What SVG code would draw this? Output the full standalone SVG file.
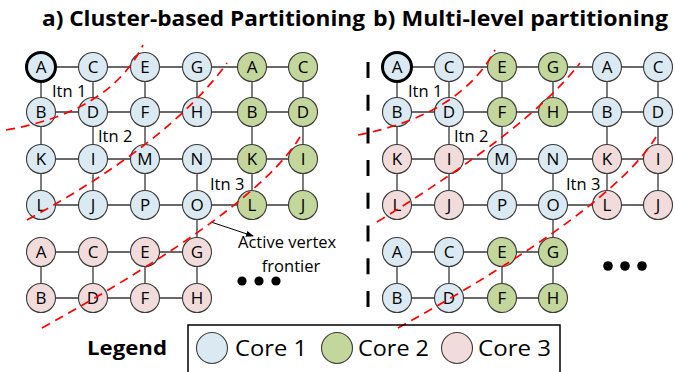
<svg xmlns="http://www.w3.org/2000/svg" width="675" height="372" viewBox="0 0 675 372">
  <style>
    .title { font-family: "Open Sans", "Liberation Sans", sans-serif; font-weight: bold; font-size: 21px; fill: #000; }
    .n circle { stroke: #3a3a3a; stroke-width: 1.1; }
    .n text { font-family: "Open Sans", "Liberation Sans", sans-serif; font-size: 17px; text-anchor: middle; fill: #000; }
    .b circle, circle.b { fill: #dbeaf2; }
    .g circle, circle.g { fill: #c3d69b; }
    .p circle, circle.p { fill: #f2dcdb; }
    .start circle { stroke: #000; stroke-width: 3; }
    .edge { fill: none; stroke: #383838; stroke-width: 1.3; }
    .wave { fill: none; stroke: #ff0000; stroke-width: 1.7; stroke-dasharray: 9 6; }
    .lbl { font-family: "Open Sans", "Liberation Sans", sans-serif; font-size: 16.5px; fill: #000; }
    .leg { font-family: "Open Sans", "Liberation Sans", sans-serif; font-size: 22px; fill: #000; }
    .legc { stroke: #3a3a3a; stroke-width: 1.1; }
  </style>
  <defs>
    <marker id="arrowhead" markerWidth="8" markerHeight="6" refX="7" refY="3" orient="auto" markerUnits="userSpaceOnUse">
      <path d="M0,0 L8,3 L0,6 Z" fill="#000"/>
    </marker>
  </defs>
  <rect width="675" height="372" fill="#fff"/>

  <!-- panel titles -->
  <text class="title" x="42" y="26" textLength="323" lengthAdjust="spacingAndGlyphs">a) Cluster-based Partitioning</text>
  <text class="title" x="373" y="26" textLength="295" lengthAdjust="spacingAndGlyphs">b) Multi-level partitioning</text>

  <!-- connectors: grid edges -->
  <g id="connectors">
    <path id="edges-a" class="edge" d="M41 67H303 M41 112H303 M41 159H303 M41 205H303 M41 252H197 M41 298H197
      M41 67V205 M93 67V205 M145 67V205 M197 67V112 M197 159V298 M252 67V205 M303 67V205
      M41 252V298 M93 252V298 M145 252V298"/>
    <path id="edges-b" class="edge" d="M397 67H658 M397 112H658 M397 159H658 M397 205H658 M397 252H553 M397 298H553
      M397 67V205 M449 67V205 M502 67V205 M553 67V112 M553 159V298 M607 67V205 M658 67V205
      M397 252V298 M449 252V298 M502 252V298"/>
    <line id="active-arrow" x1="211" y1="222" x2="253" y2="236" stroke="#000" stroke-width="1" marker-end="url(#arrowhead)"/>
  </g>

  <!-- panel separator -->
  <line x1="368" y1="62" x2="368" y2="310" stroke="#000" stroke-width="3" stroke-dasharray="16 16.7"/>

  <!-- a) cluster-based partitioning nodes -->
  <g id="a-A" class="n b start"><circle cx="41" cy="67" r="14.5"/><text x="41" y="73">A</text></g>
  <g id="a-C" class="n b"><circle cx="93" cy="67" r="14.5"/><text x="93" y="73">C</text></g>
  <g id="a-E" class="n b"><circle cx="145" cy="67" r="14.5"/><text x="145" y="73">E</text></g>
  <g id="a-G" class="n b"><circle cx="197" cy="67" r="14.5"/><text x="197" y="73">G</text></g>
  <g id="a-A2" class="n g"><circle cx="252" cy="67" r="14.5"/><text x="252" y="73">A</text></g>
  <g id="a-C2" class="n g"><circle cx="303" cy="67" r="14.5"/><text x="303" y="73">C</text></g>

  <g id="a-B" class="n b"><circle cx="41" cy="112" r="14.5"/><text x="41" y="118">B</text></g>
  <g id="a-D" class="n b"><circle cx="93" cy="112" r="14.5"/><text x="93" y="118">D</text></g>
  <g id="a-F" class="n b"><circle cx="145" cy="112" r="14.5"/><text x="145" y="118">F</text></g>
  <g id="a-H" class="n b"><circle cx="197" cy="112" r="14.5"/><text x="197" y="118">H</text></g>
  <g id="a-B2" class="n g"><circle cx="252" cy="112" r="14.5"/><text x="252" y="118">B</text></g>
  <g id="a-D2" class="n g"><circle cx="303" cy="112" r="14.5"/><text x="303" y="118">D</text></g>

  <g id="a-K" class="n b"><circle cx="41" cy="159" r="14.5"/><text x="41" y="165">K</text></g>
  <g id="a-I" class="n b"><circle cx="93" cy="159" r="14.5"/><text x="93" y="165">I</text></g>
  <g id="a-M" class="n b"><circle cx="145" cy="159" r="14.5"/><text x="145" y="165">M</text></g>
  <g id="a-N" class="n b"><circle cx="197" cy="159" r="14.5"/><text x="197" y="165">N</text></g>
  <g id="a-K2" class="n g"><circle cx="252" cy="159" r="14.5"/><text x="252" y="165">K</text></g>
  <g id="a-I2" class="n g"><circle cx="303" cy="159" r="14.5"/><text x="303" y="165">I</text></g>

  <g id="a-L" class="n b"><circle cx="41" cy="205" r="14.5"/><text x="41" y="211">L</text></g>
  <g id="a-J" class="n b"><circle cx="93" cy="205" r="14.5"/><text x="93" y="211">J</text></g>
  <g id="a-P" class="n b"><circle cx="145" cy="205" r="14.5"/><text x="145" y="211">P</text></g>
  <g id="a-O" class="n b"><circle cx="197" cy="205" r="14.5"/><text x="197" y="211">O</text></g>
  <g id="a-L2" class="n g"><circle cx="252" cy="205" r="14.5"/><text x="252" y="211">L</text></g>
  <g id="a-J2" class="n g"><circle cx="303" cy="205" r="14.5"/><text x="303" y="211">J</text></g>

  <g id="a-A3" class="n p"><circle cx="41" cy="252" r="14.5"/><text x="41" y="258">A</text></g>
  <g id="a-C3" class="n p"><circle cx="93" cy="252" r="14.5"/><text x="93" y="258">C</text></g>
  <g id="a-E3" class="n p"><circle cx="145" cy="252" r="14.5"/><text x="145" y="258">E</text></g>
  <g id="a-G3" class="n p"><circle cx="197" cy="252" r="14.5"/><text x="197" y="258">G</text></g>
  <g id="a-B3" class="n p"><circle cx="41" cy="298" r="14.5"/><text x="41" y="304">B</text></g>
  <g id="a-D3" class="n p"><circle cx="93" cy="298" r="14.5"/><text x="93" y="304">D</text></g>
  <g id="a-F3" class="n p"><circle cx="145" cy="298" r="14.5"/><text x="145" y="304">F</text></g>
  <g id="a-H3" class="n p"><circle cx="197" cy="298" r="14.5"/><text x="197" y="304">H</text></g>

  <!-- b) multi-level partitioning nodes -->
  <g id="b-A" class="n b start"><circle cx="397" cy="67" r="14.5"/><text x="397" y="73">A</text></g>
  <g id="b-C" class="n b"><circle cx="449" cy="67" r="14.5"/><text x="449" y="73">C</text></g>
  <g id="b-E" class="n g"><circle cx="502" cy="67" r="14.5"/><text x="502" y="73">E</text></g>
  <g id="b-G" class="n g"><circle cx="553" cy="67" r="14.5"/><text x="553" y="73">G</text></g>
  <g id="b-A2" class="n b"><circle cx="607" cy="67" r="14.5"/><text x="607" y="73">A</text></g>
  <g id="b-C2" class="n b"><circle cx="658" cy="67" r="14.5"/><text x="658" y="73">C</text></g>

  <g id="b-B" class="n b"><circle cx="397" cy="112" r="14.5"/><text x="397" y="118">B</text></g>
  <g id="b-D" class="n b"><circle cx="449" cy="112" r="14.5"/><text x="449" y="118">D</text></g>
  <g id="b-F" class="n g"><circle cx="502" cy="112" r="14.5"/><text x="502" y="118">F</text></g>
  <g id="b-H" class="n g"><circle cx="553" cy="112" r="14.5"/><text x="553" y="118">H</text></g>
  <g id="b-B2" class="n b"><circle cx="607" cy="112" r="14.5"/><text x="607" y="118">B</text></g>
  <g id="b-D2" class="n b"><circle cx="658" cy="112" r="14.5"/><text x="658" y="118">D</text></g>

  <g id="b-K" class="n p"><circle cx="397" cy="159" r="14.5"/><text x="397" y="165">K</text></g>
  <g id="b-I" class="n p"><circle cx="449" cy="159" r="14.5"/><text x="449" y="165">I</text></g>
  <g id="b-M" class="n b"><circle cx="502" cy="159" r="14.5"/><text x="502" y="165">M</text></g>
  <g id="b-N" class="n b"><circle cx="553" cy="159" r="14.5"/><text x="553" y="165">N</text></g>
  <g id="b-K2" class="n p"><circle cx="607" cy="159" r="14.5"/><text x="607" y="165">K</text></g>
  <g id="b-I2" class="n p"><circle cx="658" cy="159" r="14.5"/><text x="658" y="165">I</text></g>

  <g id="b-L" class="n p"><circle cx="397" cy="205" r="14.5"/><text x="397" y="211">L</text></g>
  <g id="b-J" class="n p"><circle cx="449" cy="205" r="14.5"/><text x="449" y="211">J</text></g>
  <g id="b-P" class="n b"><circle cx="502" cy="205" r="14.5"/><text x="502" y="211">P</text></g>
  <g id="b-O" class="n b"><circle cx="553" cy="205" r="14.5"/><text x="553" y="211">O</text></g>
  <g id="b-L2" class="n p"><circle cx="607" cy="205" r="14.5"/><text x="607" y="211">L</text></g>
  <g id="b-J2" class="n p"><circle cx="658" cy="205" r="14.5"/><text x="658" y="211">J</text></g>

  <g id="b-A3" class="n b"><circle cx="397" cy="252" r="14.5"/><text x="397" y="258">A</text></g>
  <g id="b-C3" class="n b"><circle cx="449" cy="252" r="14.5"/><text x="449" y="258">C</text></g>
  <g id="b-E3" class="n g"><circle cx="502" cy="252" r="14.5"/><text x="502" y="258">E</text></g>
  <g id="b-G3" class="n g"><circle cx="553" cy="252" r="14.5"/><text x="553" y="258">G</text></g>
  <g id="b-B3" class="n b"><circle cx="397" cy="298" r="14.5"/><text x="397" y="304">B</text></g>
  <g id="b-D3" class="n b"><circle cx="449" cy="298" r="14.5"/><text x="449" y="304">D</text></g>
  <g id="b-F3" class="n g"><circle cx="502" cy="298" r="14.5"/><text x="502" y="304">F</text></g>
  <g id="b-H3" class="n g"><circle cx="553" cy="298" r="14.5"/><text x="553" y="304">H</text></g>

  <!-- iteration wavefronts -->
  <g id="wavefronts">
    <path class="wave" d="M6 130 Q110 112 143 45"/>
    <path class="wave" d="M27 220 Q170 142 227 63"/>
    <path class="wave" d="M42 328 Q255 210 300 137"/>
    <path class="wave" d="M358 135 Q460 115 495 50"/>
    <path class="wave" d="M377 222 Q530 128 580 63"/>
    <path class="wave" d="M398 328 Q611 210 656 137"/>
  </g>

  <!-- iteration labels -->
  <text class="lbl" x="52" y="97">Itn 1</text>
  <text class="lbl" x="98" y="142">Itn 2</text>
  <text class="lbl" x="210" y="190">Itn 3</text>
  <text class="lbl" x="408" y="97">Itn 1</text>
  <text class="lbl" x="454" y="142">Itn 2</text>
  <text class="lbl" x="566" y="190">Itn 3</text>

  <!-- annotation -->
  <text class="lbl" x="238" y="248">Active vertex</text>
  <text class="lbl" x="291" y="272" text-anchor="middle">frontier</text>

  <!-- ellipses -->
  <g fill="#000">
    <circle cx="242" cy="281" r="4.6"/><circle cx="259" cy="281" r="4.6"/><circle cx="276" cy="281" r="4.6"/>
    <circle cx="608" cy="266" r="4.8"/><circle cx="625" cy="266" r="4.8"/><circle cx="642" cy="266" r="4.8"/>
  </g>

  <!-- legend -->
  <g id="legend">
    <text x="87" y="355" font-family="'Open Sans', 'Liberation Sans', sans-serif" font-weight="bold" font-size="19" textLength="80" lengthAdjust="spacingAndGlyphs">Legend</text>
    <rect x="188" y="325" width="372" height="60" fill="none" stroke="#000" stroke-width="1.5"/>
    <circle class="legc b" cx="212" cy="348" r="15.5"/>
    <text class="leg" x="235" y="356" textLength="72" lengthAdjust="spacingAndGlyphs">Core 1</text>
    <circle class="legc g" cx="337" cy="348" r="15.5"/>
    <text class="leg" x="358" y="356" textLength="71" lengthAdjust="spacingAndGlyphs">Core 2</text>
    <circle class="legc p" cx="457" cy="348" r="15.5"/>
    <text class="leg" x="478" y="356" textLength="73" lengthAdjust="spacingAndGlyphs">Core 3</text>
  </g>
</svg>
